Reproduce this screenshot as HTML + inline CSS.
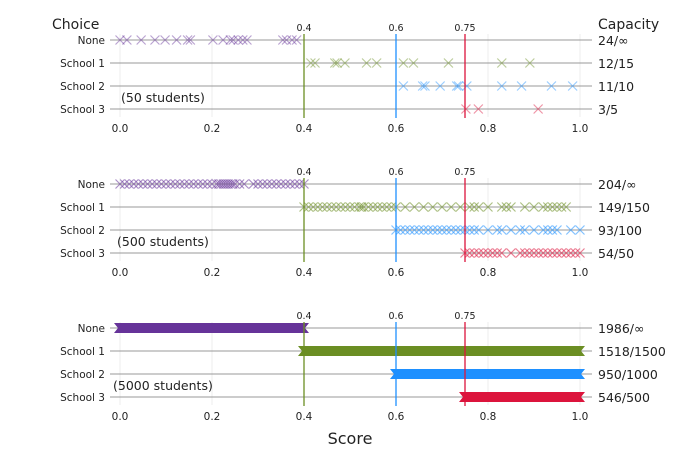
<!DOCTYPE html>
<html><head><meta charset="utf-8"><style>
html,body{margin:0;padding:0;background:#fff;}
svg{display:block;font-family:"DejaVu Sans","Liberation Sans",sans-serif;}
</style></head><body>
<svg id="chart" width="700" height="450" viewBox="0 0 700 450"></svg>
<script>
const rowNames = ["None","School 1","School 2","School 3"];
const thresholds = [0.4, 0.6, 0.75];
const thresholdLabels = ["0.4","0.6","0.75"];
const xTicks = [0, 0.2, 0.4, 0.6, 0.8, 1.0];
const xTickLabels = ["0.0","0.2","0.4","0.6","0.8","1.0"];
const panelTitles = ["(50 students)","(500 students)","(5000 students)"];
const capacities50 = ["24/∞","12/15","11/10","3/5"];
const capacities500 = ["204/∞","149/150","93/100","54/50"];
const capacities5000 = ["1986/∞","1518/1500","950/1000","546/500"];
// 50 students
const p50None = [0,0.015,0.046,0.076,0.098,0.123,0.147,0.153,0.202,0.224,0.24,0.246,0.257,0.267,0.276,0.354,0.362,0.374,0.384];
const p50S1 = [0.415,0.424,0.467,0.472,0.489,0.536,0.558,0.616,0.638,0.714,0.83,0.891];
const p50S2 = [0.616,0.658,0.663,0.696,0.732,0.736,0.754,0.83,0.873,0.938,0.984];
const p50S3 = [0.752,0.779,0.909];
// 500 students (hand-estimated)
const p500None = [0,0.01,0.02,0.03,0.04,0.05,0.06,0.07,0.08,0.09,0.1,0.11,0.12,0.13,0.14,0.15,0.16,0.17,0.18,0.19,0.2,0.21,0.215,0.22,0.225,0.23,0.235,0.24,0.245,0.25,0.26,0.27,0.29,0.3,0.31,0.32,0.33,0.34,0.35,0.36,0.37,0.38,0.39,0.4];
const p500S1 = [0.4,0.41,0.42,0.43,0.44,0.45,0.46,0.47,0.48,0.49,0.5,0.51,0.52,0.525,0.53,0.54,0.55,0.56,0.57,0.58,0.59,0.6,0.62,0.64,0.66,0.68,0.7,0.72,0.74,0.76,0.77,0.78,0.8,0.83,0.84,0.85,0.88,0.9,0.92,0.93,0.94,0.95,0.96,0.97];
const p500S2 = [0.6,0.61,0.62,0.63,0.64,0.65,0.66,0.67,0.68,0.69,0.7,0.71,0.72,0.73,0.74,0.75,0.76,0.77,0.78,0.8,0.82,0.83,0.85,0.87,0.88,0.9,0.92,0.93,0.94,0.95,0.98,1.0];
const p500S3 = [0.75,0.76,0.77,0.78,0.79,0.8,0.81,0.82,0.83,0.85,0.87,0.88,0.89,0.9,0.91,0.92,0.93,0.94,0.95,0.96,0.97,0.98,0.99,1.0];
// 5000 students: dense ranges
const r5000Start = [0, 0.4, 0.6, 0.75];
const r5000End = [0.4, 1.0, 1.0, 1.0];

const colors = ["#663399","#6b8e23","#1e90ff","#dc143c"];
const svg = document.getElementById('chart');
const NS = "http://www.w3.org/2000/svg";
function x(v){ return 120 + 460*v; }
function mk(tag, attrs, parent){ const e=document.createElementNS(NS,tag); for(const k in attrs) e.setAttribute(k,attrs[k]); (parent||svg).appendChild(e); return e; }
function txt(s, attrs, parent){ const e=mk('text',attrs,parent); e.textContent=s; return e; }

const panels = [
  {top:40, caps:capacities50, pts:[p50None,p50S1,p50S2,p50S3], op:0.45},
  {top:184, caps:capacities500, pts:[p500None,p500S1,p500S2,p500S3], op:0.55},
  {top:328, caps:capacities5000, ranges:true}
];
const rowGap = 23;
panels.forEach((P, pi)=>{
  const g = mk('g',{});
  
  
  function y(r){ return P.top + r*rowGap; }
  xTicks.forEach(t=>{ mk('line',{x1:x(t),x2:x(t),y1:y(0)-6,y2:y(3)+8,stroke:'#ececec','stroke-width':1},g); });
  rowNames.forEach((n,r)=>{
    mk('line',{x1:110,x2:592,y1:y(r),y2:y(r),stroke:'#999','stroke-width':1},g);
    const l = txt(n,{x:105,y:y(r)+4,'text-anchor':'end','font-size':10.5,fill:'#222'},g);
    
    
    const c = txt(P.caps[r],{x:598,y:y(r)+5,'font-size':12.5,fill:'#222'},g);
    
    
  });
  xTicks.forEach((t,i)=>{
    const e = txt(xTickLabels[i],{x:x(t),y:y(3)+23,'text-anchor':'middle','font-size':10.5,fill:'#222'},g);
    
    
  });
  if(P.ranges){
    r5000Start.forEach((s,r)=>{
      const e = mk('polygon',{points:[
        [x(s)-6,y(r)-5],[x(r5000End[r])+5,y(r)-5],[x(r5000End[r])+1,y(r)],[x(r5000End[r])+5,y(r)+5],
        [x(s)-6,y(r)+5],[x(s)-2,y(r)]].map(p=>p.join(',')).join(' '),fill:colors[r]},g);
      
      
    });
  } else {
    P.pts.forEach((arr,r)=>{
      arr.forEach(v=>{
        const cx=x(v), cy=y(r);
        const e = mk('path',{d:`M${cx-4.5},${cy-4.5}L${cx+4.5},${cy+4.5}M${cx-4.5},${cy+4.5}L${cx+4.5},${cy-4.5}`,stroke:colors[r],'stroke-width':1.2,'stroke-opacity':P.op,fill:'none'},g);
        
        
      });
    });
  }
  thresholds.forEach((t,i)=>{
    const e = mk('line',{x1:x(t),x2:x(t),y1:y(0)-6,y2:y(3)+9,stroke:colors[i+1],'stroke-width':1.3},g);
    
    
    const l = txt(thresholdLabels[i],{x:x(t),y:y(0)-9,'text-anchor':'middle','font-size':9.5,fill:'#222'},g);
    
    
  });
  const tt = txt(panelTitles[pi],{x:pi===0?121:pi===1?117:113,y:y(2)+16,'font-size':12.5,fill:'#222'},g);
  
  
});
const c1 = txt("Choice",{x:52,y:29,'font-size':14,fill:'#222'});


const c2 = txt("Capacity",{x:598,y:29,'font-size':14,fill:'#222'});


const xt = txt("Score",{x:350,y:444,'text-anchor':'middle','font-size':16,fill:'#222'});


</script>
</body></html>
